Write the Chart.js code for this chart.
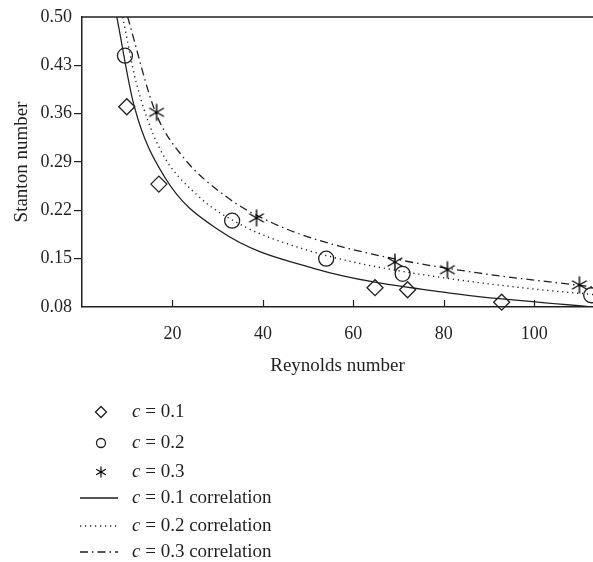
<!DOCTYPE html>
<html>
<head>
<meta charset="utf-8">
<script src="https://cdn.jsdelivr.net/npm/chart.js@4/dist/chart.umd.min.js"></script>
<style>
  html, body { margin: 0; padding: 0; background: #fff; }
  #wrap { width: 593px; height: 562px; position: relative; }
</style>
</head>
<body>
<div id="wrap"><canvas id="myChart" width="593" height="562"></canvas></div>
<script>
// measured points
const reC01 = [9.9, 17.0, 64.8, 72.0, 92.8];
const stC01 = [0.370, 0.258, 0.108, 0.105, 0.087];
const reC02 = [9.5, 33.2, 54.0, 70.9, 112.6];
const stC02 = [0.444, 0.205, 0.150, 0.128, 0.097];
const reC03 = [16.5, 38.6, 69.2, 80.8, 110.0];
const stC03 = [0.362, 0.209, 0.145, 0.134, 0.112];

// correlation curves
const fitRe01 = [7.7, 11.5, 18.2, 30.6, 51.2, 81.4, 113];
const fitSt01 = [0.50, 0.372, 0.269, 0.190, 0.136, 0.100, 0.080];
const fitRe02 = [9.0, 12.0, 17.0, 25.5, 35.8, 49.0, 61.5, 81.4, 100, 113];
const fitSt02 = [0.50, 0.405, 0.312, 0.242, 0.197, 0.164, 0.143, 0.121, 0.106, 0.098];
const fitRe03 = [10.1, 16.2, 22.0, 32.5, 41.7, 51.2, 68.9, 88.0, 113];
const fitSt03 = [0.50, 0.363, 0.300, 0.237, 0.203, 0.179, 0.150, 0.129, 0.109];

const xTicks = [20, 40, 60, 80, 100];
const yTicks = [0.08, 0.15, 0.22, 0.29, 0.36, 0.43, 0.50];
const legendLabels = ["= 0.1", "= 0.2", "= 0.3", "= 0.1 correlation", "= 0.2 correlation", "= 0.3 correlation"];

const INK = "#231f20";
const SERIF = "'Liberation Serif', 'Times New Roman', serif";

const toPoints = (xs, ys) => xs.map((x, i) => ({ x: x, y: ys[i] }));

// six armed asterisk used as marker
function starImage(r, lw) {
  const c = document.createElement("canvas");
  const s = Math.ceil(2 * r + 3);
  c.width = s;
  c.height = s;
  const g = c.getContext("2d");
  g.strokeStyle = "#000";
  g.lineWidth = lw;
  g.translate(s / 2, s / 2);
  [90, 30, 150].forEach((a) => {
    const t = (a * Math.PI) / 180;
    g.beginPath();
    g.moveTo(-r * Math.cos(t), -r * Math.sin(t));
    g.lineTo(r * Math.cos(t), r * Math.sin(t));
    g.stroke();
  });
  return c;
}
const starBig = starImage(8.5, 1.4);
const starSmall = starImage(5.5, 1.2);

const dashes = [[], [1.2, 3.8], [8, 4, 1.5, 4]];

const decorations = {
  id: "decorations",
  afterDraw(chart) {
    const ctx = chart.ctx;
    const area = chart.chartArea;
    const xs = chart.scales.x;
    ctx.save();
    // top frame line
    ctx.strokeStyle = INK;
    ctx.lineWidth = 1.5;
    ctx.beginPath();
    ctx.moveTo(area.left, area.top);
    ctx.lineTo(area.right, area.top);
    ctx.stroke();
    // inward x ticks
    ctx.lineWidth = 1.2;
    xTicks.forEach((v) => {
      const px = Math.round(xs.getPixelForValue(v)) + 0.5;
      ctx.beginPath();
      ctx.moveTo(px, area.bottom);
      ctx.lineTo(px, area.bottom - 7);
      ctx.stroke();
    });

    // legend
    const rowY = [412, 443, 472, 498, 526, 552];
    const symX = 101;
    const textX = 132;
    rowY.forEach((y, i) => {
      ctx.strokeStyle = INK;
      ctx.fillStyle = "rgba(0,0,0,0)";
      ctx.lineWidth = 1.3;
      ctx.setLineDash([]);
      if (i === 0) {
        Chart.helpers.drawPoint(ctx, { pointStyle: "rectRot", radius: 5.5, borderWidth: 1.3, rotation: 0 }, symX, y);
      } else if (i === 1) {
        Chart.helpers.drawPoint(ctx, { pointStyle: "circle", radius: 4.5, borderWidth: 1.3, rotation: 0 }, symX, y);
      } else if (i === 2) {
        ctx.drawImage(starSmall, symX - starSmall.width / 2, y - starSmall.height / 2);
      } else {
        ctx.setLineDash(dashes[i - 3]);
        ctx.beginPath();
        ctx.moveTo(80, y);
        ctx.lineTo(118, y);
        ctx.stroke();
        ctx.setLineDash([]);
      }
      ctx.fillStyle = INK;
      ctx.textBaseline = "middle";
      ctx.textAlign = "left";
      ctx.font = "italic 19px " + SERIF;
      ctx.fillText("c", textX, y);
      const w = ctx.measureText("c ").width;
      ctx.font = "19px " + SERIF;
      ctx.fillText(legendLabels[i], textX + w, y);
    });
    ctx.restore();
  },
};

const ctx = document.getElementById("myChart").getContext("2d");
const chart = new Chart(ctx, {
  type: "scatter",
  data: {
    datasets: [
      {
        label: "c = 0.1",
        data: toPoints(reC01, stC01),
        pointStyle: "rectRot",
        pointRadius: 8,
        borderColor: INK,
        backgroundColor: "rgba(0,0,0,0)",
        pointBorderWidth: 1.3,
        clip: false,
      },
      {
        label: "c = 0.2",
        data: toPoints(reC02, stC02),
        pointStyle: "circle",
        pointRadius: 7.5,
        borderColor: INK,
        backgroundColor: "rgba(0,0,0,0)",
        pointBorderWidth: 1.3,
        clip: false,
      },
      {
        label: "c = 0.3",
        data: toPoints(reC03, stC03),
        pointStyle: starBig,
        pointRadius: 8,
        borderColor: INK,
        clip: false,
      },
      {
        label: "c = 0.1 correlation",
        data: toPoints(fitRe01, fitSt01),
        showLine: true,
        pointRadius: 0,
        borderColor: INK,
        borderWidth: 1.3,
        cubicInterpolationMode: "monotone",
      },
      {
        label: "c = 0.2 correlation",
        data: toPoints(fitRe02, fitSt02),
        showLine: true,
        pointRadius: 0,
        borderColor: INK,
        borderWidth: 1.4,
        borderDash: dashes[1],
        cubicInterpolationMode: "monotone",
      },
      {
        label: "c = 0.3 correlation",
        data: toPoints(fitRe03, fitSt03),
        showLine: true,
        pointRadius: 0,
        borderColor: INK,
        borderWidth: 1.3,
        borderDash: dashes[2],
        cubicInterpolationMode: "monotone",
      },
    ],
  },
  options: {
    responsive: false,
    animation: false,
    layout: { autoPadding: false, padding: { top: 17, right: 0, bottom: 185, left: 0 } },
    plugins: { legend: { display: false }, tooltip: { enabled: false } },
    scales: {
      x: {
        type: "linear",
        min: 0,
        max: 113,
        afterBuildTicks: (scale) => {
          scale.ticks = xTicks.map((v) => ({ value: v }));
        },
        afterFit: (scale) => {
          scale.height = 70;
        },
        grid: { display: false, drawTicks: false },
        border: { display: true, color: INK, width: 1.5 },
        ticks: {
          color: INK,
          font: { family: SERIF, size: 18 },
          padding: 16,
          maxRotation: 0,
        },
        title: {
          display: true,
          text: "Reynolds number",
          color: INK,
          font: { family: SERIF, size: 19 },
          padding: { top: 6, bottom: 0 },
        },
      },
      y: {
        type: "linear",
        min: 0.08,
        max: 0.5,
        afterBuildTicks: (scale) => {
          scale.ticks = yTicks.map((v) => ({ value: v }));
        },
        afterFit: (scale) => {
          scale.width = 82;
        },
        grid: {
          display: true,
          drawOnChartArea: false,
          drawTicks: true,
          tickLength: 8,
          lineWidth: 1.2,
          color: (c) => (c.index === 0 || c.index === yTicks.length - 1 ? "rgba(0,0,0,0)" : INK),
        },
        border: { display: true, color: INK, width: 1.5 },
        ticks: {
          color: INK,
          font: { family: SERIF, size: 18 },
          padding: 2,
          callback: (v) => Number(v).toFixed(2),
        },
        title: {
          display: true,
          text: "Stanton number",
          color: INK,
          font: { family: SERIF, size: 19 },
          padding: { top: 11, bottom: 0 },
        },
      },
    },
  },
  plugins: [decorations],
});
</script>
</body>
</html>
